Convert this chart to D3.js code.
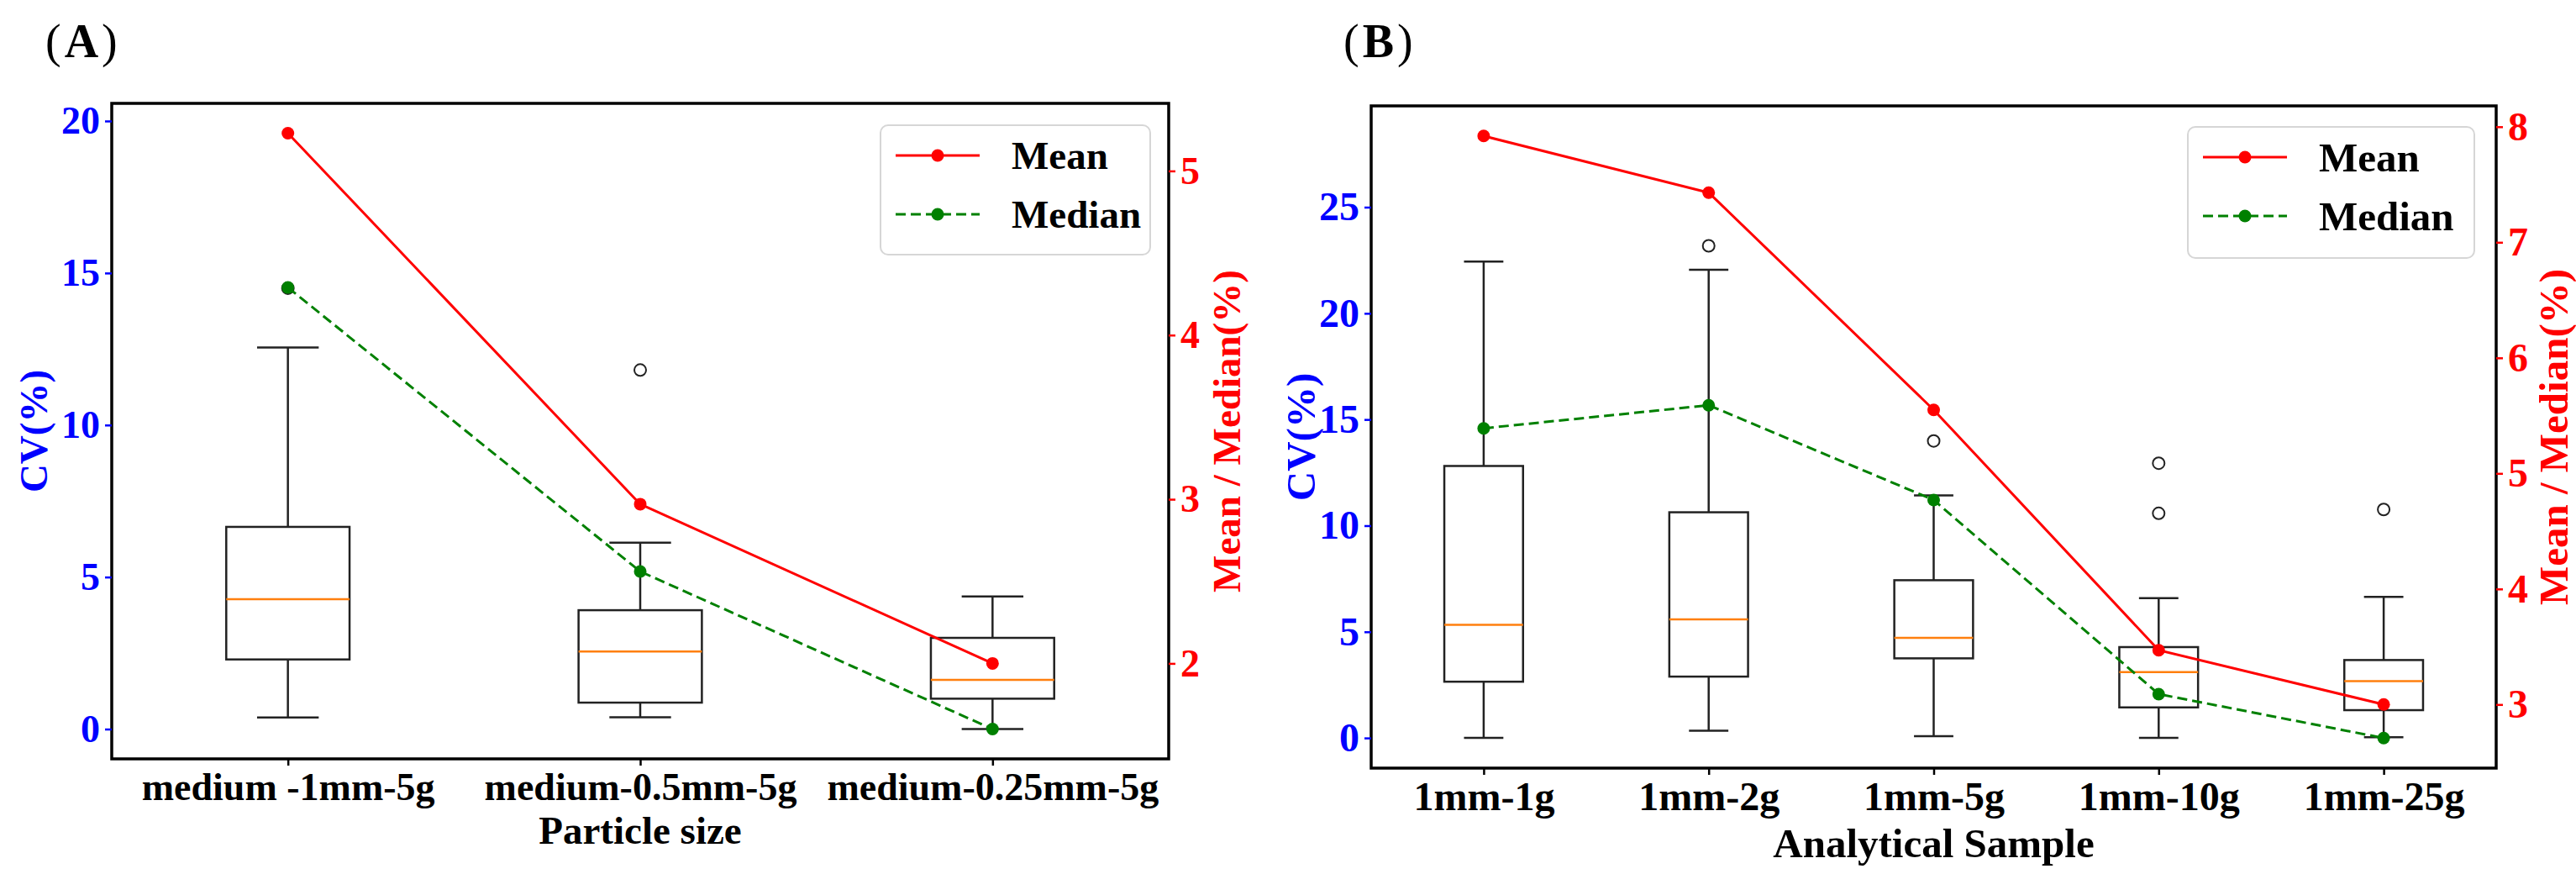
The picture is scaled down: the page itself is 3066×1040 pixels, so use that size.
<!DOCTYPE html>
<html>
<head>
<meta charset="utf-8">
<script src="https://cdn.jsdelivr.net/npm/d3@7"></script>
<style>
  body { margin: 0; background: #fff; }
</style>
</head>
<body>
<svg id="chart"></svg>
<script>
// Panel A - particle size
const catsA = ["medium -1mm-5g", "medium-0.5mm-5g", "medium-0.25mm-5g"]
const whiskLoA = [0.38, 0.39, 0.0]
const q1A = [2.29, 0.87, 1.0]
const medA = [4.27, 2.55, 1.62]
const q3A = [6.65, 3.91, 3.0]
const whiskHiA = [12.55, 6.13, 4.36]
const fliersA = [[14.5], [11.81], []]
const meanA = [5.23, 2.97, 2.0]
const medianLineA = [4.29, 2.56, 1.60]
const leftTicksA = [0, 5, 10, 15, 20]
const rightTicksA = [2, 3, 4, 5]

// Panel B - analytical sample
const catsB = ["1mm-1g", "1mm-2g", "1mm-5g", "1mm-10g", "1mm-25g"]
const whiskLoB = [0.0, 0.34, 0.08, 0.0, 0.03]
const q1B = [2.65, 2.89, 3.75, 1.44, 1.31]
const medB = [5.33, 5.59, 4.72, 3.10, 2.68]
const q3B = [12.81, 10.63, 7.43, 4.28, 3.67]
const whiskHiB = [22.44, 22.05, 11.42, 6.59, 6.64]
const fliersB = [[], [23.18], [13.99], [12.94, 10.58], [10.76]]
const meanB = [7.92, 7.43, 5.55, 3.47, 3.0]
const medianLineB = [5.39, 5.59, 4.77, 3.09, 2.71]
const leftTicksB = [0, 5, 10, 15, 20, 25]
const rightTicksB = [3, 4, 5, 6, 7, 8]

const W = 3066
const H = 1040
const SERIF = "'Liberation Serif', 'Times New Roman', serif"
const BLUE = "#0000ff"
const RED = "#ff0000"
const GREEN = "#008000"
const ORANGE = "#ff7f0e"

const svg = d3.select("#chart")
  .attr("width", W)
  .attr("height", H)

svg.append("rect")
  .attr("width", W)
  .attr("height", H)
  .attr("fill", "#fff")

drawPanel({
  label: "A", labelX: 54, labelY: 68,
  left: 133, right: 1391, top: 123, bottom: 903,
  leftDomain: [-0.98, 20.58],
  cats: catsA, lo: whiskLoA, q1: q1A, med: medA, q3: q3A, hi: whiskHiA,
  fliers: fliersA, mean: meanA, medianLine: medianLineA,
  leftTicks: leftTicksA, rightTicks: rightTicksA,
  font: 46, xTitle: "Particle size", xTitleY: 1004,
  yTitleX: 56, rTitleX: 1476,
  legend: { x: 1048, y: 149, w: 321, h: 154 }
})

drawPanel({
  label: "B", labelX: 1599, labelY: 68,
  left: 1632, right: 2971, top: 126, bottom: 914,
  leftDomain: [-1.42, 29.77],
  cats: catsB, lo: whiskLoB, q1: q1B, med: medB, q3: q3B, hi: whiskHiB,
  fliers: fliersB, mean: meanB, medianLine: medianLineB,
  leftTicks: leftTicksB, rightTicks: rightTicksB,
  font: 48, xTitle: "Analytical Sample", xTitleY: 1020,
  yTitleX: 1565, rTitleX: 3056,
  legend: { x: 2604, y: 151, w: 341, h: 156 }
})

function drawPanel(p) {
  const g = svg.append("g")

  const x = d3.scalePoint()
    .domain(p.cats)
    .range([p.left, p.right])
    .padding(0.5)
  const boxW = x.step() * 0.35

  const yL = d3.scaleLinear()
    .domain(p.leftDomain)
    .range([p.bottom, p.top])

  // twin axis: limits padded 5% around the mean / median values
  const ext = d3.extent(p.mean.concat(p.medianLine))
  const pad = (ext[1] - ext[0]) * 0.05
  const yR = d3.scaleLinear()
    .domain([ext[0] - pad, ext[1] + pad])
    .range([p.bottom, p.top])

  const boxes = p.cats.map((c, i) => ({
    cat: c, lo: p.lo[i], q1: p.q1[i], med: p.med[i],
    q3: p.q3[i], hi: p.hi[i], fliers: p.fliers[i]
  }))

  const bg = g.append("g")
    .selectAll("g")
    .data(boxes)
    .join("g")
    .attr("transform", d => `translate(${x(d.cat)},0)`)
    .attr("stroke", "#222")
    .attr("stroke-width", 2.5)
    .attr("fill", "none")

  bg.append("line")
    .attr("y1", d => yL(d.lo))
    .attr("y2", d => yL(d.q1))
  bg.append("line")
    .attr("y1", d => yL(d.q3))
    .attr("y2", d => yL(d.hi))
  bg.append("line")
    .attr("x1", -boxW / 4).attr("x2", boxW / 4)
    .attr("y1", d => yL(d.lo)).attr("y2", d => yL(d.lo))
  bg.append("line")
    .attr("x1", -boxW / 4).attr("x2", boxW / 4)
    .attr("y1", d => yL(d.hi)).attr("y2", d => yL(d.hi))
  bg.append("rect")
    .attr("x", -boxW / 2)
    .attr("width", boxW)
    .attr("y", d => yL(d.q3))
    .attr("height", d => yL(d.q1) - yL(d.q3))
  bg.append("line")
    .attr("stroke", ORANGE)
    .attr("x1", -boxW / 2).attr("x2", boxW / 2)
    .attr("y1", d => yL(d.med)).attr("y2", d => yL(d.med))
  bg.selectAll("circle")
    .data(d => d.fliers)
    .join("circle")
    .attr("r", 7)
    .attr("cy", d => yL(d))
    .attr("stroke-width", 2)

  const line = d3.line()
    .x((d, i) => x(p.cats[i]))
    .y(d => yR(d))

  g.append("path")
    .attr("d", line(p.medianLine))
    .attr("fill", "none")
    .attr("stroke", GREEN)
    .attr("stroke-width", 3)
    .attr("stroke-dasharray", "12,6")
  g.append("g")
    .selectAll("circle")
    .data(p.medianLine)
    .join("circle")
    .attr("cx", (d, i) => x(p.cats[i]))
    .attr("cy", d => yR(d))
    .attr("r", 7.5)
    .attr("fill", GREEN)

  g.append("path")
    .attr("d", line(p.mean))
    .attr("fill", "none")
    .attr("stroke", RED)
    .attr("stroke-width", 3)
  g.append("g")
    .selectAll("circle")
    .data(p.mean)
    .join("circle")
    .attr("cx", (d, i) => x(p.cats[i]))
    .attr("cy", d => yR(d))
    .attr("r", 7.5)
    .attr("fill", RED)

  // frame
  g.append("rect")
    .attr("x", p.left)
    .attr("y", p.top)
    .attr("width", p.right - p.left)
    .attr("height", p.bottom - p.top)
    .attr("fill", "none")
    .attr("stroke", "#000")
    .attr("stroke-width", 3.5)

  const styleAxis = (a, color) => {
    a.select(".domain").remove()
    a.selectAll(".tick line")
      .attr("stroke", color)
      .attr("stroke-width", 2.5)
    a.selectAll(".tick text")
      .attr("fill", color)
      .attr("font-family", SERIF)
      .attr("font-weight", "bold")
      .attr("font-size", p.font)
  }

  g.append("g")
    .attr("transform", `translate(${p.left},0)`)
    .call(d3.axisLeft(yL).tickValues(p.leftTicks).tickSize(8).tickPadding(6)
      .tickFormat(d3.format("d")))
    .call(a => styleAxis(a, BLUE))

  g.append("g")
    .attr("transform", `translate(${p.right},0)`)
    .call(d3.axisRight(yR).tickValues(p.rightTicks).tickSize(8).tickPadding(6)
      .tickFormat(d3.format("d")))
    .call(a => styleAxis(a, RED))

  g.append("g")
    .attr("transform", `translate(0,${p.bottom})`)
    .call(d3.axisBottom(x).tickSize(8).tickPadding(8))
    .call(a => styleAxis(a, "#000"))

  // axis titles
  g.append("text")
    .attr("x", (p.left + p.right) / 2)
    .attr("y", p.xTitleY)
    .attr("text-anchor", "middle")
    .attr("font-family", SERIF)
    .attr("font-weight", "bold")
    .attr("font-size", p.font + 1)
    .text(p.xTitle)

  g.append("text")
    .attr("transform", `translate(${p.yTitleX},${(p.top + p.bottom) / 2}) rotate(-90)`)
    .attr("text-anchor", "middle")
    .attr("font-family", SERIF)
    .attr("font-weight", "bold")
    .attr("font-size", p.font + 1)
    .attr("fill", BLUE)
    .text("CV(%)")

  g.append("text")
    .attr("transform", `translate(${p.rTitleX},${(p.top + p.bottom) / 2}) rotate(-90)`)
    .attr("text-anchor", "middle")
    .attr("font-family", SERIF)
    .attr("font-weight", "bold")
    .attr("font-size", p.font + 1)
    .attr("fill", RED)
    .text("Mean / Median(%)")

  // panel letter
  const lbl = g.append("text")
    .attr("x", p.labelX)
    .attr("y", p.labelY)
    .attr("font-family", SERIF)
    .attr("font-size", 56)
  lbl.append("tspan").attr("font-weight", "normal").text("(")
  lbl.append("tspan").attr("font-weight", "bold").attr("dx", 4).text(p.label)
  lbl.append("tspan").attr("font-weight", "normal").attr("dx", 4).text(")")

  // legend
  const L = p.legend
  const lg = g.append("g").attr("transform", `translate(${L.x},${L.y})`)
  lg.append("rect")
    .attr("width", L.w)
    .attr("height", L.h)
    .attr("rx", 9)
    .attr("fill", "#fff")
    .attr("fill-opacity", 0.8)
    .attr("stroke", "#d6d6d6")
    .attr("stroke-width", 2)

  const entries = [
    { name: "Mean", color: RED, dash: null },
    { name: "Median", color: GREEN, dash: "12,6" }
  ]
  const row = lg.selectAll("g.row")
    .data(entries)
    .join("g")
    .attr("class", "row")
    .attr("transform", (d, i) => `translate(0,${36 + i * 70})`)
  row.append("line")
    .attr("x1", 18).attr("x2", 118)
    .attr("stroke", d => d.color)
    .attr("stroke-width", 3)
    .attr("stroke-dasharray", d => d.dash)
  row.append("circle")
    .attr("cx", 68)
    .attr("r", 7.5)
    .attr("fill", d => d.color)
  row.append("text")
    .attr("x", 156)
    .attr("dy", "0.35em")
    .attr("font-family", SERIF)
    .attr("font-weight", "bold")
    .attr("font-size", p.font + 1)
    .text(d => d.name)
}
</script>
</body>
</html>
